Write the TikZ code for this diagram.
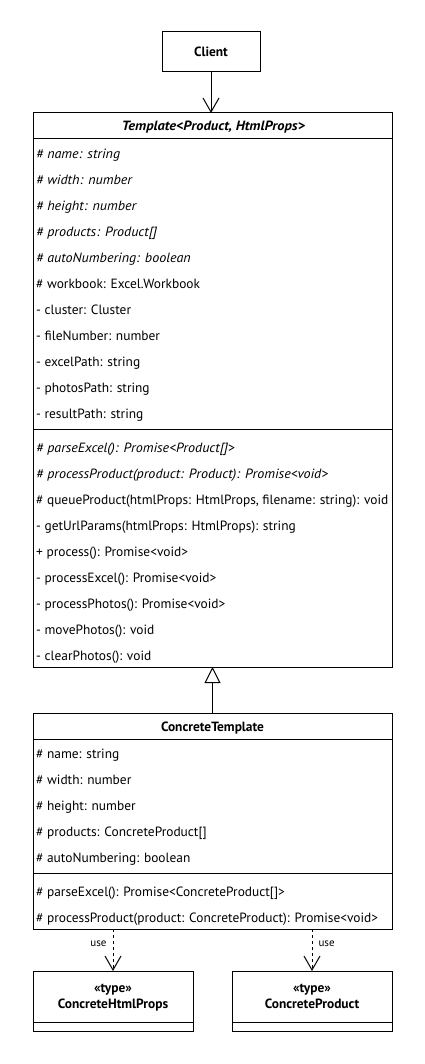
\documentclass[tikz,border=0pt]{standalone}
\usepackage{fontspec}
\setmainfont{PT Sans}
\newfontface\rowitfont{PT Sans Italic}[FakeStretch=1.05]
\newfontface\headitfont{PT Sans Bold Italic}[FakeStretch=1.08]
\usetikzlibrary{arrows.meta}
\tikzset{
  box/.style={draw, line width=1pt, outer sep=0pt, inner sep=0pt, anchor=north west},
  row/.style={anchor=base west, inner sep=0pt, font=\fontsize{13.4}{15}\selectfont},
  arow/.style={row, font=\fontsize{13.4}{15}\rowitfont},
  title/.style={anchor=base, inner sep=0pt, font=\fontsize{13.4}{15}\selectfont\bfseries},
  sep/.style={line width=1pt},
  lbl/.style={inner sep=0pt, font=\fontsize{11}{13}\selectfont},
  assoc/.style={line width=1pt, -{Straight Barb[length=14pt,width=16pt]}},
  dep/.style={line width=1pt, dash pattern=on 3pt off 3pt, -{Straight Barb[length=14pt,width=16pt,line width=1pt]}},
  gen/.style={line width=1pt, -{Triangle[open,length=16pt,width=16pt]}}
}
\begin{document}
\begin{tikzpicture}[x=1pt,y=-1pt]
\useasboundingbox[fill=white] (0,0) rectangle (425,1064);

% Client
\node[box, minimum width=98pt, minimum height=40pt] (cl) at (162,32) {};
\node[title] (clt) at (211,56.5) {Client};

% Template
\node[box, minimum width=359pt, minimum height=554pt] (tpl) at (33,113) {};
\node[title, font=\fontsize{13.4}{15}\headitfont] (tplt) at (213.5,130.5) {Template<Product, HtmlProps>};
\draw[sep] (tpl.west |- 0,139) -- (tpl.east |- 0,139);
\draw[sep] (tpl.west |- 0,429) -- (tpl.east |- 0,429);
\node[arow] (ta1) at (36,158.5) {\# name: string};
\node[arow] (ta2) at (36,184.5) {\# width: number};
\node[arow] (ta3) at (36,210.5) {\# height: number};
\node[arow] (ta4) at (36,236.5) {\# products: Product[]};
\node[arow] (ta5) at (36,262.5) {\# autoNumbering: boolean};
\node[row] (ta6) at (36,288.5) {\# workbook: Excel.Workbook};
\node[row] (ta7) at (36,314.5) {- cluster: Cluster};
\node[row] (ta8) at (36,340.5) {- fileNumber: number};
\node[row] (ta9) at (36,366.5) {- excelPath: string};
\node[row] (ta10) at (36,392.5) {- photosPath: string};
\node[row] (ta11) at (36,418.5) {- resultPath: string};
\node[arow] (tm1) at (36,452.5) {\# parseExcel(): Promise<Product[]>};
\node[arow] (tm2) at (36,478.5) {\# processProduct(product: Product): Promise<void>};
\node[row] (tm3) at (36,504.5) {\# queueProduct(htmlProps: HtmlProps, filename: string): void};
\node[row] (tm4) at (36,530.5) {- getUrlParams(htmlProps: HtmlProps): string};
\node[row] (tm5) at (36,556.5) {+ process(): Promise<void>};
\node[row] (tm6) at (36,582.5) {- processExcel(): Promise<void>};
\node[row] (tm7) at (36,608.5) {- processPhotos(): Promise<void>};
\node[row] (tm8) at (36,634.5) {- movePhotos(): void};
\node[row] (tm9) at (36,660.5) {- clearPhotos(): void};

% ConcreteTemplate
\node[box, minimum width=359pt, minimum height=216pt] (ct) at (33,713) {};
\node[title] (ctt) at (212.5,731) {ConcreteTemplate};
\draw[sep] (ct.west |- 0,739) -- (ct.east |- 0,739);
\draw[sep] (ct.west |- 0,873) -- (ct.east |- 0,873);
\node[row] (ca1) at (36,758.5) {\# name: string};
\node[row] (ca2) at (36,784.5) {\# width: number};
\node[row] (ca3) at (36,810.5) {\# height: number};
\node[row] (ca4) at (36,836.5) {\# products: ConcreteProduct[]};
\node[row] (ca5) at (36,862.5) {\# autoNumbering: boolean};
\node[row] (cm1) at (36,896.5) {\# parseExcel(): Promise<ConcreteProduct[]>};
\node[row] (cm2) at (36,922.5) {\# processProduct(product: ConcreteProduct): Promise<void>};

% ConcreteHtmlProps
\node[box, minimum width=160pt, minimum height=60pt] (chp) at (33,971) {};
\draw[sep] (chp.west |- 0,1022) -- (chp.east |- 0,1022);
\node[title] (chps) at (113,992) {«type»};
\node[title] (chpt) at (113,1008) {ConcreteHtmlProps};

% ConcreteProduct
\node[box, minimum width=160pt, minimum height=60pt] (cp) at (232,971) {};
\draw[sep] (cp.west |- 0,1022) -- (cp.east |- 0,1022);
\node[title] (cps) at (312,992) {«type»};
\node[title] (cpt) at (312,1008) {ConcreteProduct};

% connectors
\draw[assoc] (cl.south) -- (cl.south |- tpl.north);
\draw[gen] (ct.north) -- (tpl.south);
\draw[dep] (chp.north |- ct.south) -- node[lbl, pos=0.35, left=6pt] (u1) {use} (chp.north);
\draw[dep] (cp.north |- ct.south) -- node[lbl, pos=0.35, right=6pt] (u2) {use} (cp.north);
\end{tikzpicture}
\end{document}
